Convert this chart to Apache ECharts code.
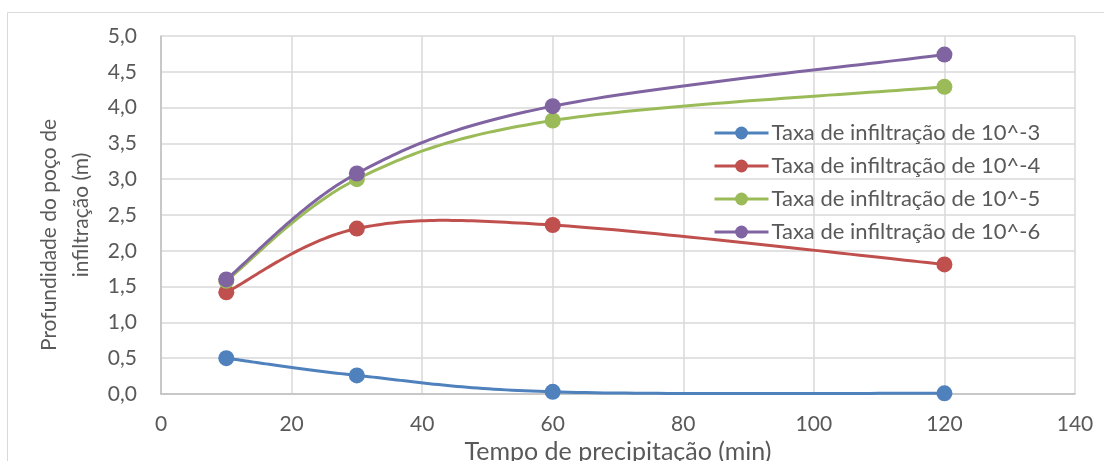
<!DOCTYPE html>
<html>
<head>
<meta charset="utf-8">
<script src="https://cdn.jsdelivr.net/npm/echarts@6/dist/echarts.min.js"></script>
<style>
html,body{margin:0;padding:0;background:#fff;}
#c{width:1104px;height:461px;}
</style>
</head>
<body>
<div id="c"></div>
<script>
const xValues = [10, 30, 60, 120];
const seriesNames = ['Taxa de infiltração de 10^-3','Taxa de infiltração de 10^-4','Taxa de infiltração de 10^-5','Taxa de infiltração de 10^-6'];
const s3 = [0.50, 0.26, 0.03, 0.01];
const s4 = [1.42, 2.31, 2.36, 1.81];
const s5 = [1.58, 3.00, 3.82, 4.29];
const s6 = [1.60, 3.08, 4.02, 4.74];
const colors = ['#4F81BD','#C0504D','#9BBB59','#8064A2'];
const seriesValues = [s3, s4, s5, s6];

const font = 'Lato, "Open Sans", sans-serif';
const textColor = '#595959';

// Excel-like smoothed curve (Catmull-Rom style Bezier) through data points, in pixel space via api.coord
function smoothRenderer(vals, color) {
  return function (params, api) {
    const pts = xValues.map((x, j) => api.coord([x, vals[j]]));
    const out = [];
    const n = pts.length;
    for (let i = 0; i < n - 1; i++) {
      const p0 = pts[Math.max(i - 1, 0)], p1 = pts[i], p2 = pts[i + 1], p3 = pts[Math.min(i + 2, n - 1)];
      const c1 = [p1[0] + (p2[0] - p0[0]) / 6, p1[1] + (p2[1] - p0[1]) / 6];
      const c2 = [p2[0] - (p3[0] - p1[0]) / 6, p2[1] - (p3[1] - p1[1]) / 6];
      const steps = 40;
      for (let k = (i === 0 ? 0 : 1); k <= steps; k++) {
        const t = k / steps, u = 1 - t;
        out.push([
          u*u*u*p1[0] + 3*u*u*t*c1[0] + 3*u*t*t*c2[0] + t*t*t*p2[0],
          u*u*u*p1[1] + 3*u*u*t*c1[1] + 3*u*t*t*c2[1] + t*t*t*p2[1]
        ]);
      }
    }
    return {type:'polyline', shape:{points:out}, style:{stroke:color, lineWidth:3, fill:null, lineCap:'round', lineJoin:'round'}};
  };
}

const series = [];
seriesValues.forEach((vals, i) => {
  series.push({
    name: 'curve' + i, type:'custom', coordinateSystem:'cartesian2d',
    data: [[xValues[0], vals[0]]], renderItem: smoothRenderer(vals, colors[i]),
    z: 2 + i * 2, silent: true
  });
  series.push({
    name: seriesNames[i], type:'line',
    data: xValues.map((x, j) => [x, vals[j]]),
    symbol:'circle', symbolSize:16, showAllSymbol:true,
    lineStyle:{color:colors[i], width:3, opacity:0},
    itemStyle:{color:colors[i]},
    z: 3 + i * 2
  });
});

const chart = echarts.init(document.getElementById('c'));
chart.setOption({
  animation: false,
  textStyle: {fontFamily: font},
  graphic: [{type:'rect', shape:{x:7.5,y:12.5,width:1110,height:470}, style:{fill:'none', stroke:'#d9d9d9', lineWidth:1}, z:-10}],
  grid: {left:161, right:29, top:36, bottom:67, containLabel:false, outerBoundsMode:'none'},
  legend: {
    orient:'vertical', left:708, top:117, itemGap:11, itemWidth:54, itemHeight:16,
    lineStyle:{opacity:1, width:3},
    textStyle:{fontSize:22, lineHeight:22, color:textColor, fontFamily:font, padding:[0,0,0,-2]},
    data: seriesNames
  },
  xAxis: {
    type:'value', min:0, max:140, interval:20,
    axisLine:{show:true, lineStyle:{color:'#bfbfbf', width:1.5}},
    axisTick:{show:false},
    splitLine:{show:true, lineStyle:{color:'#d9d9d9', width:1.5}},
    axisLabel:{fontSize:21, color:textColor, margin:20, fontFamily:font},
    name:'Tempo de precipitação (min)', nameLocation:'middle', nameGap:37,
    nameTextStyle:{fontSize:25, color:textColor, fontFamily:font}
  },
  yAxis: {
    type:'value', min:0, max:5, interval:0.5,
    axisLine:{show:true, lineStyle:{color:'#bfbfbf', width:1.5}},
    axisTick:{show:false},
    splitLine:{show:true, lineStyle:{color:'#d9d9d9', width:1.5}},
    axisLabel:{fontSize:21, color:textColor, margin:24, fontFamily:font,
      formatter: v => v.toFixed(1).replace('.', ',')},
    name:'{a|Profundidade do poço de}\n{b|infiltração (m)}', nameLocation:'middle', nameGap:60,
    nameTextStyle:{fontSize:21, color:textColor, lineHeight:32, fontFamily:font,
      rich:{
        a:{fontSize:21, color:textColor, lineHeight:32, fontFamily:font, padding:[0,40,0,0]},
        b:{fontSize:21, color:textColor, lineHeight:32, fontFamily:font}
      }}
  },
  series: series
});
</script>
</body>
</html>
